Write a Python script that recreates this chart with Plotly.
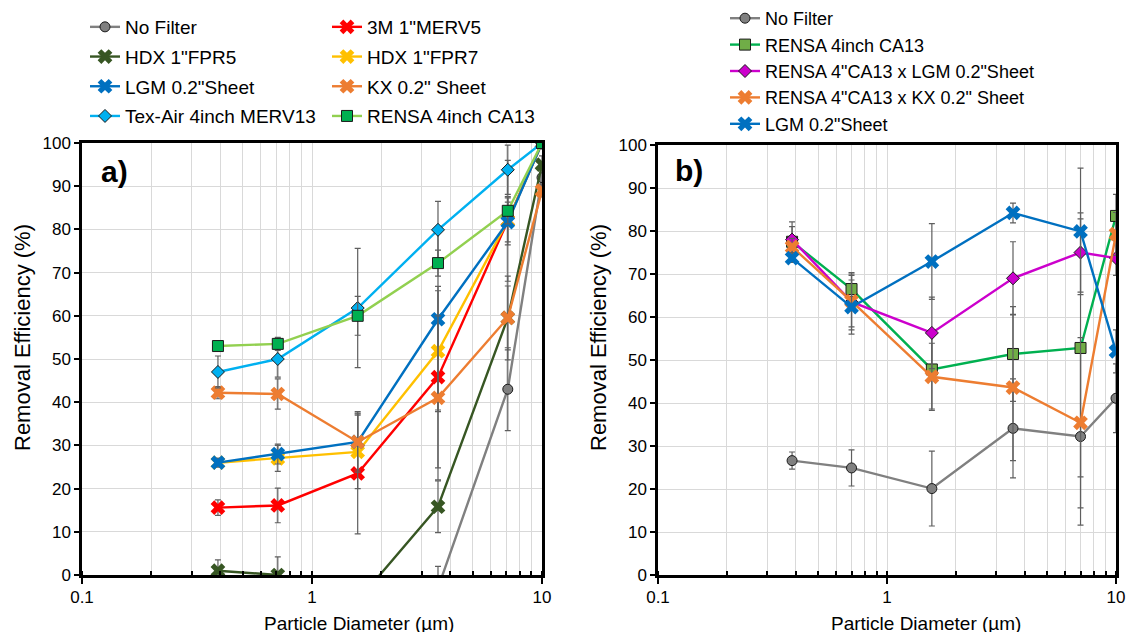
import plotly.graph_objects as go

# ---------------- data ----------------
# particle diameters (um)
diam_a = [0.39, 0.71, 1.58, 3.53, 7.1, 10]
diam_b = [0.385, 0.70, 1.57, 3.55, 7.0, 10]

# panel a) removal efficiency (%) and error (+/-)
a_no_filter = [-25, -20, -12, -3, 43, 92]
a_no_filter_err = [5, 5, 5, 5, 9.6, 3]
a_3m_merv5 = [15.6, 16.1, 23.5, 45.8, 82, 100]
a_3m_merv5_err = [1.8, 4, 14, 21, 14, 1]
a_hdx_fpr5 = [1, 0, -6, 15.8, 59.5, 95]
a_hdx_fpr5_err = [2.5, 4.2, 5, 6, 7.4, 2]
a_hdx_fpr7 = [26, 27, 28.5, 51.8, 82, 100]
a_hdx_fpr7_err = [1, 3, 8.5, 14, 5.6, 1]
a_lgm = [26, 28, 30.8, 59.2, 81.7, 100]
a_lgm_err = [1, 2.3, 7, 21, 4.6, 0.5]
a_kx = [42.2, 41.9, 30.8, 41, 59.5, 89]
a_kx_err = [1.4, 3.5, 6.5, 19, 9.7, 1.5]
a_texair = [47, 50, 61.8, 79.9, 93.8, 100]
a_texair_err = [3.7, 4.2, 13.8, 6.6, 5.7, 0.5]
a_rensa = [53, 53.5, 60, 72.2, 84.3, 100]
a_rensa_err = [0.5, 1.5, 4.5, 3, 3, 0.5]

# panel b)
b_no_filter = [26.6, 24.9, 20.1, 34.1, 32.2, 41.1]
b_no_filter_err = [2, 4.2, 8.7, 11.5, 20.6, 8]
b_rensa = [77.5, 66.5, 47.8, 51.4, 52.8, 83.5]
b_rensa_err = [4.6, 3.8, 9.2, 11, 30, 5]
b_rensa_lgm = [78, 63.5, 56.3, 69, 75, 73.7]
b_rensa_lgm_err = [3, 6.5, 8.3, 8.5, 9.2, 4]
b_rensa_kx = [76.3, 63.7, 46.1, 43.6, 35.4, 79.3]
b_rensa_kx_err = [2, 6, 7.8, 17, 19.8, 5]
b_lgm = [73.7, 62.3, 72.9, 84.2, 79.9, 52]
b_lgm_err = [1, 6.3, 8.8, 2.3, 14.7, 5]

x_ticks = [0.1, 1, 10]
x_tick_text = ["0.1", "1", "10"]

# ---------------- styling ----------------
FONT = "Arial, Liberation Sans, sans-serif"
ERR_COLOR = "#5f5f5f"
GRID = "#D9D9D9"

fig = go.Figure()


def add(x, y, err, name, line_color, symbol, mcolor, size, outline, xa, ya, legend):
    fig.add_trace(go.Scatter(
        x=x, y=y, name=name, mode="lines+markers",
        line=dict(color=line_color, width=2.4),
        marker=dict(symbol=symbol, color=mcolor, size=size,
                    line=dict(color="#1a1a1a" if outline else mcolor, width=1 if outline else 0)),
        error_y=dict(type="data", array=err, color=ERR_COLOR, thickness=1.2, width=3),
        xaxis=xa, yaxis=ya, legend=legend, legendgroup=name + xa,
    ))


# panel a
add(diam_a, a_no_filter, a_no_filter_err, "No Filter", "#808080", "circle", "#808080", 10, True, "x", "y", "legend")
add(diam_a, a_3m_merv5, a_3m_merv5_err, '3M 1"MERV5', "#FF0000", "x", "#FF0000", 13, False, "x", "y", "legend2")
add(diam_a, a_hdx_fpr5, a_hdx_fpr5_err, 'HDX 1"FPR5', "#375623", "x", "#375623", 13, False, "x", "y", "legend")
add(diam_a, a_hdx_fpr7, a_hdx_fpr7_err, 'HDX 1"FPR7', "#FFC000", "x", "#FFC000", 13, False, "x", "y", "legend2")
add(diam_a, a_lgm, a_lgm_err, 'LGM 0.2"Sheet', "#0070C0", "x", "#0070C0", 13, False, "x", "y", "legend")
add(diam_a, a_kx, a_kx_err, 'KX 0.2" Sheet', "#ED7D31", "x", "#ED7D31", 13, False, "x", "y", "legend2")
add(diam_a, a_texair, a_texair_err, "Tex-Air 4inch MERV13", "#00B0F0", "diamond", "#00B0F0", 10, True, "x", "y", "legend")
add(diam_a, a_rensa, a_rensa_err, "RENSA 4inch CA13", "#92D050", "square", "#00B050", 11, True, "x", "y", "legend2")

# panel b
add(diam_b, b_no_filter, b_no_filter_err, "No Filter", "#808080", "circle", "#808080", 10, True, "x2", "y2", "legend3")
add(diam_b, b_rensa, b_rensa_err, "RENSA 4inch CA13", "#00B050", "square", "#70AD47", 11, True, "x2", "y2", "legend3")
add(diam_b, b_rensa_lgm, b_rensa_lgm_err, 'RENSA 4"CA13 x LGM 0.2"Sheet', "#CC00CC", "diamond", "#CC00CC", 10, True, "x2", "y2", "legend3")
add(diam_b, b_rensa_kx, b_rensa_kx_err, 'RENSA 4"CA13 x KX 0.2" Sheet', "#ED7D31", "x", "#ED7D31", 13, False, "x2", "y2", "legend3")
add(diam_b, b_lgm, b_lgm_err, 'LGM 0.2"Sheet', "#0070C0", "x", "#0070C0", 13, False, "x2", "y2", "legend3")

W, H = 1128, 632


def px_x(p):
    return p / W


def px_y(p):
    return 1 - p / H


xcommon = dict(
    type="log", range=[-1, 1], tickvals=x_ticks, ticktext=x_tick_text,
    ticks="outside", ticklen=6, tickwidth=2, tickcolor="black", ticklabelstandoff=-1,
    showline=True, linecolor="black", linewidth=2.5, mirror=True,
    showgrid=True, gridcolor=GRID, gridwidth=1,
    minor=dict(ticks="inside", ticklen=4, tickwidth=1.5, tickcolor="black", dtick="D1",
               showgrid=True, gridcolor=GRID, gridwidth=1),
    tickfont=dict(family=FONT, size=17, color="black"),
    automargin=False, zeroline=False,
)
ycommon = dict(
    range=[0, 100], dtick=10, ticks="outside", ticklen=5, tickwidth=2, tickcolor="black",
    showline=True, linecolor="black", linewidth=2.5, mirror=True,
    showgrid=True, gridcolor=GRID, gridwidth=1, zeroline=False,
    tickfont=dict(family=FONT, size=17, color="black"), automargin=False,
)

legend_common = dict(
    bgcolor="rgba(0,0,0,0)", xanchor="left", yanchor="top", itemwidth=30, traceorder="grouped",
)
LEG_A_FONT = dict(family=FONT, size=19, color="black")
LEG_B_FONT = dict(family=FONT, size=18, color="black")

fig.update_layout(
    width=W, height=H, margin=dict(l=0, r=0, t=0, b=0),
    paper_bgcolor="white", plot_bgcolor="white",
    xaxis=dict(domain=[px_x(82), px_x(542)], anchor="y", **xcommon),
    yaxis=dict(domain=[px_y(575), px_y(143)], anchor="x", **ycommon),
    xaxis2=dict(domain=[px_x(658), px_x(1116)], anchor="y2", **xcommon),
    yaxis2=dict(domain=[px_y(575), px_y(145)], anchor="x2", **ycommon),
    legend=dict(x=px_x(85), y=px_y(8), tracegroupgap=2, font=LEG_A_FONT, **legend_common),
    legend2=dict(x=px_x(327), y=px_y(8), tracegroupgap=2, font=LEG_A_FONT, **legend_common),
    legend3=dict(x=px_x(725), y=1.0, tracegroupgap=0, font=LEG_B_FONT, **legend_common),
    showlegend=True,
)

ytitle_font = dict(family=FONT, size=22, color="black")
xtitle_font = dict(family=FONT, size=19, color="black")
label_font = dict(family=FONT, size=30, color="black")
annotations = [
    dict(text="<b>a)</b>", x=px_x(99), y=px_y(171), xanchor="left", yanchor="middle", font=label_font),
    dict(text="<b>b)</b>", x=px_x(673), y=px_y(170), xanchor="left", yanchor="middle", font=label_font),
    dict(text="Removal Efficiency (%)", x=px_x(22), y=px_y(338), xanchor="center", yanchor="middle",
         textangle=-90, font=ytitle_font),
    dict(text="Removal Efficiency (%)", x=px_x(598), y=px_y(338), xanchor="center", yanchor="middle",
         textangle=-90, font=ytitle_font),
    dict(text="Particle Diameter (µm)", x=px_x(359), y=px_y(623), xanchor="center", yanchor="middle",
         font=xtitle_font),
    dict(text="Particle Diameter (µm)", x=px_x(926), y=px_y(623), xanchor="center", yanchor="middle",
         font=xtitle_font),
]
for a in annotations:
    a.update(xref="paper", yref="paper", showarrow=False)
fig.update_layout(annotations=annotations)

# remove the default 8px page margin so figure pixels equal window pixels
fig.write_html("out.html", config={"displayModeBar": False},
               post_script="document.body.style.margin='0px';")
